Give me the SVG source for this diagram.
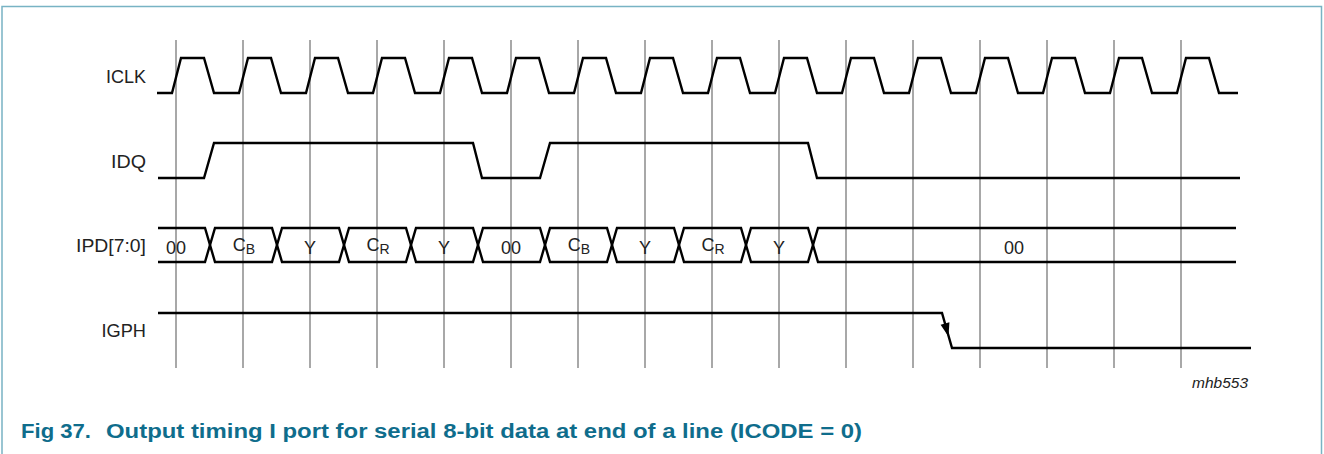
<svg xmlns="http://www.w3.org/2000/svg" width="1324" height="454" viewBox="0 0 1324 454">
<style>
.lbl{font-family:"Liberation Sans",Arial,sans-serif;font-size:17.5px;fill:#222;text-anchor:end}
.dat{font-family:"Liberation Sans",Arial,sans-serif;font-size:18px;fill:#222;text-anchor:middle}
.sub{font-size:14px}
.grid{stroke:#7a7a7a;stroke-width:1.3;fill:none}
.wave{stroke:#000;stroke-width:2.4;fill:none;stroke-linejoin:miter}
.cap{font-family:"Liberation Sans",Arial,sans-serif;font-size:19.5px;font-weight:bold;fill:#0f6d8c}
.ref{font-family:"Liberation Sans",Arial,sans-serif;font-size:15.5px;font-style:italic;fill:#222;text-anchor:end}
</style>
<rect width="1324" height="454" fill="#fff"/>
<path d="M2,454 V6.5 H1321.5 V454" fill="none" stroke="#78b3c4" stroke-width="1.5"/>
<g id="grid" class="grid">
<path d="M176,40V368M243,40V368M310,40V368M377,40V368M444,40V368M511,40V368M578,40V368M645,40V368M712,40V368M779,40V368M846,40V368M913,40V368M980,40V368M1047,40V368M1114,40V368M1181,40V368"/>
</g>
<g id="ICLK">
<text class="lbl" x="146" y="83" textLength="40" lengthAdjust="spacingAndGlyphs">ICLK</text>
<path class="wave" d="M157,93 L172,93 L181,58 L204,58 L214,93 L239,93 L248,58 L271,58 L281,93 L306,93 L315,58 L338,58 L348,93 L373,93 L382,58 L405,58 L415,93 L440,93 L449,58 L472,58 L482,93 L507,93 L516,58 L539,58 L549,93 L574,93 L583,58 L606,58 L616,93 L641,93 L650,58 L673,58 L683,93 L708,93 L717,58 L740,58 L750,93 L775,93 L784,58 L807,58 L817,93 L842,93 L851,58 L874,58 L884,93 L909,93 L918,58 L941,58 L951,93 L976,93 L985,58 L1008,58 L1018,93 L1043,93 L1052,58 L1075,58 L1085,93 L1110,93 L1119,58 L1142,58 L1152,93 L1177,93 L1186,58 L1209,58 L1219,93 L1238,93"/>
</g>
<g id="IDQ">
<text class="lbl" x="146" y="168" textLength="35" lengthAdjust="spacingAndGlyphs">IDQ</text>
<path class="wave" d="M158,178 L204,178 L214,143 L473,143 L482,178 L540,178 L550,143 L808,143 L817,178 L1240,178"/>
</g>
<g id="IPD">
<text class="lbl" x="146" y="252" textLength="70" lengthAdjust="spacingAndGlyphs">IPD[7:0]</text>
<path class="wave" d="M158,228 L205,228 L215,262 L272,262 L282,228 L339,228 L349,262 L406,262 L416,228 L473,228 L483,262 L540,262 L550,228 L607,228 L617,262 L674,262 L684,228 L741,228 L751,262 L808,262 L818,228 L1236,228"/>
<path class="wave" d="M158,262 L205,262 L215,228 L272,228 L282,262 L339,262 L349,228 L406,228 L416,262 L473,262 L483,228 L540,228 L550,262 L607,262 L617,228 L674,228 L684,262 L741,262 L751,228 L808,228 L818,262 L1236,262"/>
<text class="dat" x="176" y="253.5">00</text>
<text class="dat" x="244" y="250.5">C<tspan class="sub" dy="3.5">B</tspan></text>
<text class="dat" x="310" y="253.5">Y</text>
<text class="dat" x="378" y="250.5">C<tspan class="sub" dy="3.5">R</tspan></text>
<text class="dat" x="444" y="253.5">Y</text>
<text class="dat" x="511" y="253.5">00</text>
<text class="dat" x="579" y="250.5">C<tspan class="sub" dy="3.5">B</tspan></text>
<text class="dat" x="645" y="253.5">Y</text>
<text class="dat" x="713" y="250.5">C<tspan class="sub" dy="3.5">R</tspan></text>
<text class="dat" x="779" y="253.5">Y</text>
<text class="dat" x="1014" y="253.5">00</text>
</g>
<g id="IGPH">
<text class="lbl" x="146" y="336.5" textLength="44.5" lengthAdjust="spacingAndGlyphs">IGPH</text>
<path class="wave" d="M158,313 L942,313 L952,348 L1251,348"/>
<polygon points="940.6,324.7 949.4,322.3 948.5,336.5" fill="#000"/>
</g>
<text class="ref" x="1248" y="388">mhb553</text>
<g id="caption">
<text class="cap" x="21" y="438" textLength="70" lengthAdjust="spacingAndGlyphs">Fig 37.</text>
<text class="cap" x="106" y="438" textLength="756" lengthAdjust="spacingAndGlyphs">Output timing I port for serial 8-bit data at end of a line (ICODE = 0)</text>
</g>
</svg>
